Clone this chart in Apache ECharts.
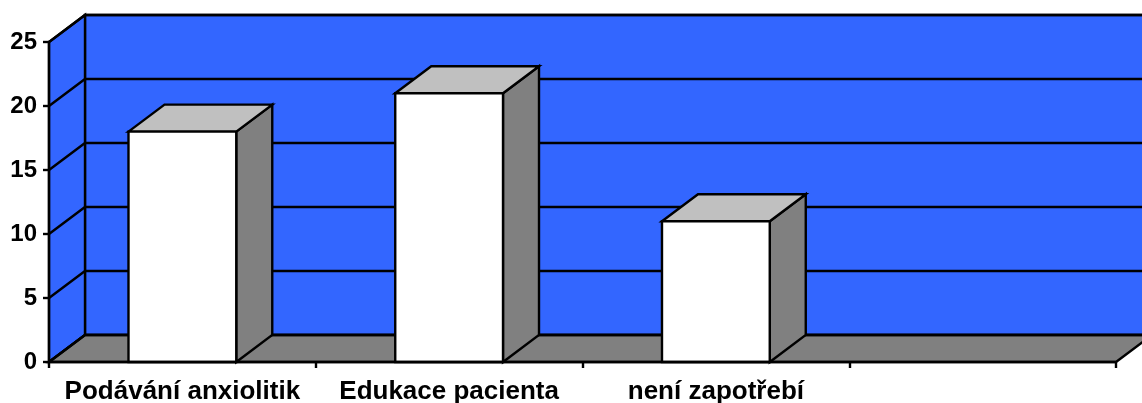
<!DOCTYPE html>
<html>
<head>
<meta charset="utf-8">
<script src="https://cdn.jsdelivr.net/npm/echarts@6/dist/echarts.min.js"></script>
<style>
html,body{margin:0;padding:0;background:#fff;}
#chart{width:1142px;height:403px;}
</style>
</head>
<body>
<div id="chart"></div>
<script>
const categories = ['Podávání anxiolitik', 'Edukace pacienta', 'není zapotřebí', ''];
const values = [18, 21, 11];
const yTicks = [0, 5, 10, 15, 20, 25];

const DX = 36, DY = -27;
const BLUE = '#3366FF', GRAY = '#808080', LIGHT = '#C0C0C0';
const LINE = { stroke: '#000', lineWidth: 2.4, lineJoin: 'miter' };

const chart = echarts.init(document.getElementById('chart'));

function renderWalls(params, api) {
  const cs = params.coordSys;
  const x0 = cs.x, x1 = cs.x + cs.width;
  const yb = api.coord([0, yTicks[0]])[1];
  const yt = api.coord([0, yTicks[yTicks.length - 1]])[1];
  const children = [];
  children.push({ type: 'rect', shape: { x: x0 + DX, y: yt + DY, width: x1 - x0, height: yb - yt },
    style: Object.assign({ fill: BLUE }, LINE) });
  children.push({ type: 'polygon', shape: { points: [[x0, yb], [x0 + DX, yb + DY], [x0 + DX, yt + DY], [x0, yt]] },
    style: Object.assign({ fill: BLUE }, LINE) });
  children.push({ type: 'polygon', shape: { points: [[x0, yb], [x0 + DX, yb + DY], [x1 + DX, yb + DY], [x1, yb]] },
    style: Object.assign({ fill: GRAY }, LINE) });
  yTicks.forEach(function (v) {
    const y = api.coord([0, v])[1];
    children.push({ type: 'polyline', shape: { points: [[x0, y], [x0 + DX, y + DY], [x1 + DX, y + DY]] },
      style: Object.assign({ fill: null }, LINE) });
  });
  return { type: 'group', children: children };
}

function renderBar(params, api) {
  const i = api.value(0), v = api.value(1);
  const base = api.coord([i, 0]);
  const top = api.coord([i, v]);
  const w = api.size([1, 0])[0] * 0.404;
  const l = base[0] - w / 2, r = base[0] + w / 2;
  const yt = top[1], yb = base[1];
  return {
    type: 'group',
    children: [
      { type: 'polygon', shape: { points: [[r, yt], [r + DX, yt + DY], [r + DX, yb + DY], [r, yb]] },
        style: Object.assign({ fill: GRAY }, LINE) },
      { type: 'polygon', shape: { points: [[l, yt], [l + DX, yt + DY], [r + DX, yt + DY], [r, yt]] },
        style: Object.assign({ fill: LIGHT }, LINE) },
      { type: 'rect', shape: { x: l, y: yt, width: w, height: yb - yt },
        style: Object.assign({ fill: '#FFFFFF' }, LINE) }
    ]
  };
}

chart.setOption({
  animation: false,
  grid: { left: 49, right: 26, top: 42, bottom: 41, containLabel: false, outerBoundsMode: 'none' },
  xAxis: {
    type: 'category',
    data: categories,
    boundaryGap: true,
    z: 10,
    axisLine: { lineStyle: { color: '#000', width: 2.4 } },
    axisTick: { show: true, length: 6, lineStyle: { color: '#000', width: 2.4 } },
    axisLabel: { color: '#000', fontWeight: 'bold', fontSize: 26, fontFamily: 'Liberation Sans', margin: 17, interval: 0 },
    splitLine: { show: false }
  },
  yAxis: {
    type: 'value',
    min: 0, max: 25, interval: 5,
    z: 10,
    axisLine: { show: true, lineStyle: { color: '#000', width: 2.4 } },
    axisTick: { show: true, length: 6, lineStyle: { color: '#000', width: 2.4 } },
    axisLabel: { color: '#000', fontWeight: 'bold', fontSize: 24, fontFamily: 'Liberation Sans', margin: 12,
      formatter: function (v) { return yTicks.indexOf(v) >= 0 ? String(v) : ''; } },
    splitLine: { show: false }
  },
  series: [
    { type: 'custom', renderItem: renderWalls, data: [[0, 0]], z: 1, silent: true, clip: false },
    { type: 'custom', renderItem: renderBar, data: values.map(function (v, i) { return [i, v]; }), z: 2, clip: false }
  ]
});
</script>
</body>
</html>
